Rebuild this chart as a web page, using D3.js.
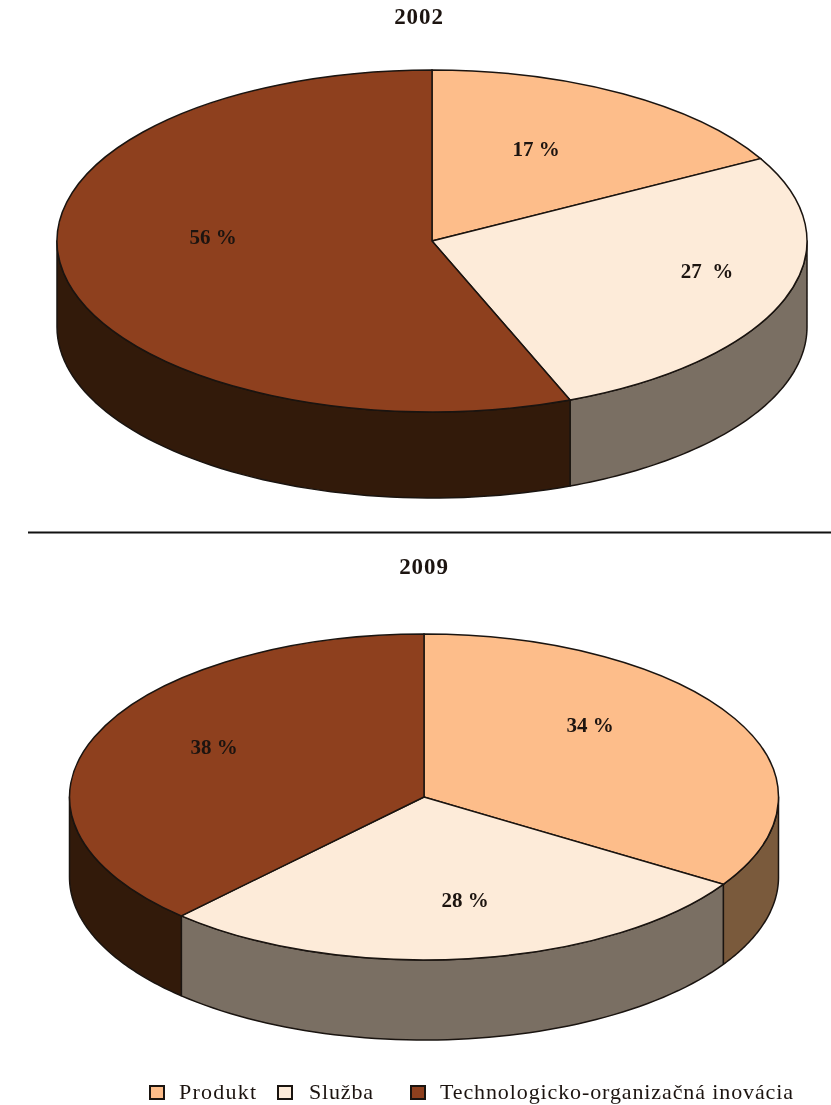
<!DOCTYPE html>
<html>
<head>
<meta charset="utf-8">
<script src="https://cdn.jsdelivr.net/npm/d3@7"></script>
<style>
  html, body { margin: 0; padding: 0; background: #fff; }
  svg { display: block; filter: blur(0.55px); }
  text { font-family: "Liberation Serif", serif; fill: #1c1410; white-space: pre; }
</style>
</head>
<body>
<svg id="chart" width="831" height="1105"></svg>
<script>
const categories = ['Produkt', 'Služba', 'Technologicko-organizačná inovácia']
const years = ['2002', '2009']
const values2002 = [17, 27, 56]
const values2009 = [34, 28, 38]
const labels2002 = ['17 %', '27  %', '56 %']
const labels2009 = ['34 %', '28 %', '38 %']

const topColors = ['#fdbd8a', '#fdebd9', '#8e401e']
const sideColors = ['#7a5a3c', '#7a6f63', '#321a0a']
const strokeColor = '#1a1410'

// tvar koláčov a ručne umiestnené popisy (x, y v obrázku)
const layouts = [
  { cx: 432, cy: 241, rx: 375, ry: 171, depth: 86, titleX: 419, titleY: 24,
    labelPos: [[536, 156], [707, 278], [213, 244]] },
  { cx: 424, cy: 797, rx: 354.5, ry: 163, depth: 80, titleX: 424, titleY: 574,
    labelPos: [[590, 732], [465, 907], [214, 754]] }
]

const svg = d3.select('#chart')
const FRONT_START = Math.PI / 2
const FRONT_END = Math.PI * 1.5

function drawPie(values, labels, year, layout) {
  const { cx, cy, rx, ry, depth } = layout
  const g = svg.append('g')

  const slices = d3.pie().sort(null)(values)

  // uhol meraný od 12. hodiny v smere hodinových ručičiek
  const xAt = a => cx + rx * Math.sin(a)
  const yAt = a => cy - ry * Math.cos(a)

  const rim = d3.line().x(d => d.x).y(d => d.y)

  // bočné steny - len predná polovica elipsy
  slices.forEach((s, i) => {
    const a0 = Math.max(s.startAngle, FRONT_START)
    const a1 = Math.min(s.endAngle, FRONT_END)
    if (a1 <= a0) return
    const steps = d3.range(0, 61).map(k => a0 + (a1 - a0) * k / 60)
    const upper = steps.map(a => ({ x: xAt(a), y: yAt(a) }))
    const lower = steps.slice().reverse().map(a => ({ x: xAt(a), y: yAt(a) + depth }))
    g.append('path')
      .attr('d', `${rim(upper.concat(lower))}Z`)
      .attr('fill', sideColors[i])
      .attr('stroke', strokeColor)
      .attr('stroke-width', 1.5)
      .attr('stroke-linejoin', 'round')
  })

  // horná plocha
  const arc = d3.arc().innerRadius(0).outerRadius(rx)
  g.append('g')
    .attr('transform', `translate(${cx},${cy}) scale(1,${ry / rx})`)
    .selectAll('path')
    .data(slices)
    .enter()
    .append('path')
    .attr('d', arc)
    .attr('fill', (d, i) => topColors[i])
    .attr('stroke', strokeColor)
    .attr('stroke-width', 1.5)
    .attr('vector-effect', 'non-scaling-stroke')

  g.selectAll('text.pct')
    .data(labels)
    .enter()
    .append('text')
    .attr('class', 'pct')
    .attr('x', (d, i) => layout.labelPos[i][0])
    .attr('y', (d, i) => layout.labelPos[i][1])
    .attr('text-anchor', 'middle')
    .attr('font-size', 21)
    .attr('font-weight', 700)
    .text(d => d)

  g.append('text')
    .attr('x', layout.titleX)
    .attr('y', layout.titleY)
    .attr('text-anchor', 'middle')
    .attr('font-size', 23)
    .attr('font-weight', 700)
    .attr('letter-spacing', 0.9)
    .text(year)
}

drawPie(values2002, labels2002, years[0], layouts[0])
drawPie(values2009, labels2009, years[1], layouts[1])

// deliaca čiara
svg.append('line')
  .attr('x1', 28)
  .attr('x2', 831)
  .attr('y1', 532.5)
  .attr('y2', 532.5)
  .attr('stroke', '#111')
  .attr('stroke-width', 2)

// legenda
const legendSwatchX = [150, 278, 411]
const legendTextX = [179, 309, 440]
const legendTextW = [77, 64, 353]

const legend = svg.append('g')
const items = legend.selectAll('g')
  .data(categories)
  .enter()
  .append('g')

items.append('rect')
  .attr('x', (d, i) => legendSwatchX[i])
  .attr('y', 1086)
  .attr('width', 14)
  .attr('height', 13)
  .attr('fill', (d, i) => topColors[i])
  .attr('stroke', strokeColor)
  .attr('stroke-width', 2)

items.append('text')
  .attr('x', (d, i) => legendTextX[i])
  .attr('y', 1099)
  .attr('font-size', 22)
  .attr('textLength', (d, i) => legendTextW[i])
  .attr('lengthAdjust', 'spacing')
  .text(d => d)
</script>
</body>
</html>
